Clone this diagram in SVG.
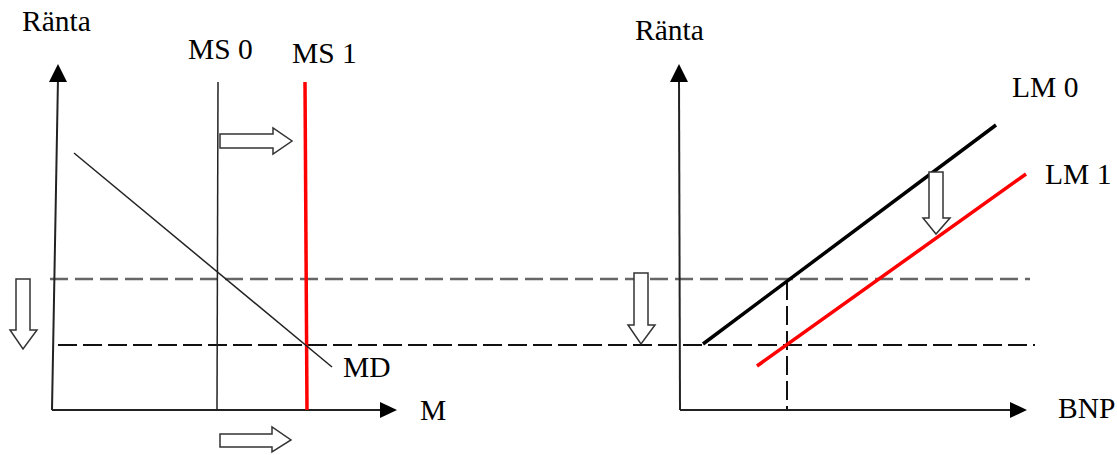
<svg xmlns="http://www.w3.org/2000/svg" width="1117" height="455" viewBox="0 0 1117 455">
<style>
text{font-family:"Liberation Serif","Times New Roman",serif;font-size:29.5px;fill:#000}
.ax{stroke:#222;stroke-width:2;fill:none}
.thin{stroke:#222;stroke-width:1.5;fill:none}
.dash1{stroke:#666;stroke-width:2.5;stroke-dasharray:18 7;fill:none}
.dash2{stroke:#111;stroke-width:2;stroke-dasharray:19 6;fill:none}
.red{stroke:#f00;stroke-width:3.5;fill:none}
.blk{stroke:#000;stroke-width:3.5;fill:none}
.hollow{fill:#fff;stroke:#333;stroke-width:1.5}
.head{fill:#000}
</style>
<rect width="1117" height="455" fill="#fff"/>
<g id="connectors">
<line class="dash1" x1="50" y1="279" x2="1030" y2="279"/>
<line class="dash2" x1="58" y1="345" x2="1035" y2="345"/>
<line class="dash2" x1="787" y1="281" x2="787" y2="410"/>
</g>
<g id="left-axes">
<line class="ax" x1="52" y1="410" x2="58" y2="78"/>
<polygon class="head" points="58,64 49,82 67,82"/>
<line class="ax" x1="52" y1="410" x2="382" y2="410"/>
<polygon class="head" points="397,410 380,402 380,418"/>
</g>
<g id="ms0"><line class="thin" x1="218" y1="82" x2="217" y2="410"/></g>
<g id="ms1"><line class="red" x1="305" y1="82" x2="307" y2="410"/></g>
<g id="md"><line class="thin" x1="74" y1="153" x2="332" y2="367"/></g>
<g id="arrow-ms-top"><polygon class="hollow" points="220,134 273,134 273,128 292,141 273,154 273,148 220,148"/></g>
<g id="arrow-ms-bottom"><polygon class="hollow" points="220,434 272,434 272,427 291,440 272,452 272,447 220,447"/></g>
<g id="arrow-left-down"><polygon class="hollow" points="16,279 30,279 30,330 37,330 23,349 10,330 16,330"/></g>
<g id="right-axes">
<line class="ax" x1="680" y1="410" x2="679" y2="78"/>
<polygon class="head" points="679,64 670,82 688,82"/>
<line class="ax" x1="680" y1="410" x2="1012" y2="410"/>
<polygon class="head" points="1027,410 1010,402 1010,418"/>
</g>
<g id="lm0"><line class="blk" x1="703" y1="344" x2="996" y2="125"/></g>
<g id="lm1"><line class="red" x1="757" y1="366" x2="1026" y2="174"/></g>
<g id="arrow-lm-down"><polygon class="hollow" points="929,172 943,172 943,218 950,218 936,234 923,218 929,218"/></g>
<g id="arrow-right-down"><polygon class="hollow" points="634,273 648,273 648,325 655,325 641,344 628,325 634,325"/></g>
<g id="labels">
<text x="22" y="31">Ränta</text>
<text x="188" y="59">MS 0</text>
<text x="292" y="63">MS 1</text>
<text x="343" y="377">MD</text>
<text x="420" y="420">M</text>
<text x="635" y="40">Ränta</text>
<text x="1012" y="97">LM 0</text>
<text x="1045" y="184">LM 1</text>
<text x="1058" y="418">BNP</text>
</g>
</svg>
